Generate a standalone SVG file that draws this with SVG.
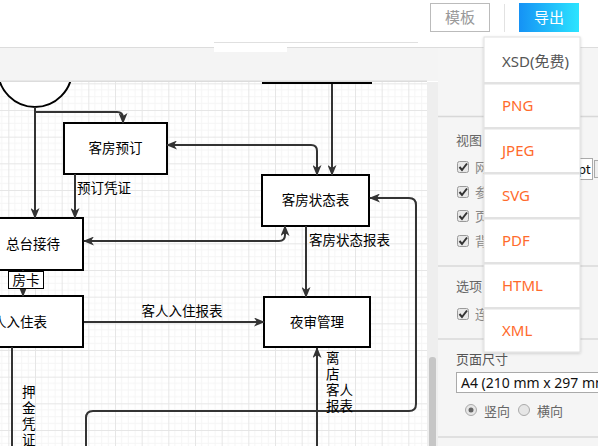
<svg xmlns="http://www.w3.org/2000/svg" width="598" height="446" viewBox="0 0 598 446">
<defs>
<style>
.box{fill:#fff;stroke:#000;stroke-width:2}
.conn{fill:none;stroke:#333;stroke-width:2}
.t{font-family:"Noto Sans CJK SC","Noto Sans",sans-serif;font-size:13.5px;fill:#000}
.tv{font-family:"Noto Sans CJK SC","Noto Sans",sans-serif;font-size:13.5px;fill:#000;line-height:1}
.tc{text-anchor:middle}
.ui{font-family:"Noto Sans CJK SC","Noto Sans",sans-serif;font-size:13px;fill:#666}
.dd{font-family:"Noto Sans","Noto Sans CJK SC",sans-serif;font-size:15px;fill:#ff6a2c}
.sep{fill:#e2e2e2}
.cb{fill:#e8e8e8;stroke:#9a9a9a;stroke-width:1}
.ck{fill:none;stroke:#333;stroke-width:2}
.pl{stroke:#d8d8d8;stroke-width:1.5}
</style>
<marker id="arr" viewBox="0 0 11 9" refX="10" refY="4.5" markerWidth="11" markerHeight="9" markerUnits="userSpaceOnUse" orient="auto-start-reverse">
<path d="M0,0 L11,4.5 L0,9 L3,4.5 Z" fill="#333"/>
</marker>
<pattern id="grid" patternUnits="userSpaceOnUse" x="8.33" y="3.33" width="26.667" height="26.667">
<path d="M6.667,0V26.667M13.333,0V26.667M20,0V26.667M0,6.667H26.667M0,13.333H26.667M0,20H26.667" stroke="#f5f5f5" stroke-width="1"/>
<path d="M0.5,0V26.667M0,0.5H26.667" stroke="#e6e6e6" stroke-width="1"/>
</pattern>
<linearGradient id="btn" x1="0" y1="0" x2="1" y2="0">
<stop offset="0" stop-color="#1592f5"/>
<stop offset="1" stop-color="#2ce4ff"/>
</linearGradient>
<clipPath id="canvasClip"><rect x="0" y="82" width="427" height="364"/></clipPath>
<filter id="sh" x="-10%" y="-5%" width="120%" height="110%"><feDropShadow dx="0" dy="1" stdDeviation="1.5" flood-color="#000" flood-opacity="0.18"/></filter>
</defs>

<!-- toolbar -->
<rect x="0" y="0" width="598" height="48" fill="#fff"/>
<rect x="0" y="48" width="598" height="33" fill="#f4f4f4"/>
<line x1="0" y1="47.5" x2="598" y2="47.5" stroke="#dcdcdc"/>
<line x1="0" y1="81.5" x2="427" y2="81.5" stroke="#dcdcdc" stroke-width="2"/>
<line x1="214" y1="42.5" x2="418" y2="42.5" stroke="#e0e0e0"/>
<rect x="214" y="43" width="73" height="9" fill="#fff"/>
<g id="btn-template">
<rect x="430.5" y="3.5" width="59" height="28" fill="#fff" stroke="#bbb"/>
<text x="460" y="23" class="ui" style="font-size:15px;fill:#999" text-anchor="middle">模板</text>
</g>
<line x1="504.5" y1="4" x2="504.5" y2="32" stroke="#e2e2e2"/>
<g id="btn-export">
<rect x="519" y="3" width="60" height="29" fill="url(#btn)"/>
<text x="549" y="23" class="ui" style="font-size:15px;fill:#fff" text-anchor="middle">导出</text>
</g>

<!-- canvas -->
<rect x="0" y="82" width="427" height="364" fill="#fff"/>
<rect x="0" y="82" width="427" height="364" fill="url(#grid)"/>

<!-- right panel -->
<rect x="427" y="82" width="11" height="364" fill="#eeeeee"/>
<rect x="438" y="48" width="160" height="398" fill="#f5f5f5"/>
<rect x="429" y="357" width="7" height="95" rx="3" fill="#c6c6c6"/>
<line x1="438" y1="116.5" x2="598" y2="116.5" class="pl"/>
<text x="456" y="145" class="ui">视图</text>
<g>
<rect x="457.5" y="161.5" width="11" height="11" rx="2" class="cb"/><path d="M459.5,167 L462,170 L467,163.5" class="ck"/>
<rect x="457.5" y="186.5" width="11" height="11" rx="2" class="cb"/><path d="M459.5,192 L462,195 L467,188.5" class="ck"/>
<rect x="457.5" y="210.5" width="11" height="11" rx="2" class="cb"/><path d="M459.5,216 L462,219 L467,212.5" class="ck"/>
<rect x="457.5" y="235.5" width="11" height="11" rx="2" class="cb"/><path d="M459.5,241 L462,244 L467,237.5" class="ck"/>
<text x="475" y="172" class="ui" style="fill:#888">网</text>
<text x="475" y="197" class="ui" style="fill:#888">参</text>
<text x="475" y="221" class="ui" style="fill:#888">页</text>
<text x="475" y="246" class="ui" style="fill:#888">背</text>
</g>
<rect x="577.5" y="158.5" width="15" height="21" fill="#fff" stroke="#aaa"/>
<text x="578" y="174" class="ui" style="fill:#111">pt</text>
<rect x="594.5" y="160.5" width="6" height="17" fill="#eee" stroke="#aaa"/>
<line x1="438" y1="266" x2="598" y2="266" class="pl"/>
<text x="456" y="291" class="ui">选项</text>
<rect x="457.5" y="308.5" width="11" height="11" rx="2" class="cb"/><path d="M459.5,314 L462,317 L467,310.5" class="ck"/>
<text x="475" y="319" class="ui" style="fill:#888">连</text>
<line x1="438" y1="339" x2="598" y2="339" class="pl"/>
<text x="456" y="364" class="ui" style="fill:#555">页面尺寸</text>
<rect x="456.5" y="372.5" width="150" height="20" fill="#fff" stroke="#aaa"/>
<text x="461" y="388" class="ui" style="font-size:14px;fill:#111;font-family:'Noto Sans',sans-serif">A4 (210 mm x 297 mm</text>
<circle cx="471" cy="410" r="5.5" fill="#e6e6e6" stroke="#aaa"/>
<circle cx="471" cy="410" r="2.5" fill="#666"/>
<text x="484" y="416" class="ui">竖向</text>
<circle cx="524" cy="410" r="5.5" fill="#e6e6e6" stroke="#aaa"/>
<text x="537" y="416" class="ui">横向</text>
<line x1="438" y1="437" x2="598" y2="437" class="pl"/>

<!-- diagram nodes -->
<g clip-path="url(#canvasClip)">
<g id="start"><circle cx="35" cy="70" r="37" class="box"/></g>
<g id="top-box"><rect x="263" y="40" width="108" height="43" class="box"/></g>
<g id="room-booking"><rect x="64" y="123" width="103" height="51" class="box"/><text x="115.5" y="153" class="t tc">客房预订</text></g>
<g id="room-status"><rect x="262" y="175" width="107" height="51" class="box"/><text x="315.5" y="205" class="t tc">客房状态表</text></g>
<g id="front-desk"><rect x="-20" y="218" width="103" height="52" class="box"/><text x="33" y="249" class="t tc">总台接待</text></g>
<g id="checkin"><rect x="-20" y="296" width="103" height="51" class="box"/><text x="47" y="327" class="t" text-anchor="end">人入住表</text></g>
<g id="night-audit"><rect x="264" y="297" width="106" height="50" class="box"/><text x="317" y="327" class="t tc">夜审管理</text></g>

<g id="connectors">
<path d="M35,107 V218" class="conn" marker-end="url(#arr)"/>
<path d="M35,112 H117 Q123,112 123,118 V123" class="conn" marker-end="url(#arr)"/>
<path d="M167,145 H311 Q317,145 317,151 V175" class="conn" marker-start="url(#arr)" marker-end="url(#arr)"/>
<path d="M332,84 V175" class="conn" marker-end="url(#arr)"/>
<path d="M75,174 V218" class="conn" marker-end="url(#arr)"/>
<path d="M84,241 H279 Q285,241 285,235 V226" class="conn" marker-start="url(#arr)" marker-end="url(#arr)"/>
<path d="M306,226 V297" class="conn" marker-end="url(#arr)"/>
<path d="M86,450 V418 Q86,411 93,411 H409 Q416,411 416,404 V205 Q416,198 409,198 H370" class="conn" marker-end="url(#arr)"/>
<path d="M317,450 V348" class="conn" marker-end="url(#arr)"/>
<path d="M23,270 V296" class="conn" marker-end="url(#arr)"/>
<path d="M84,322 H264" class="conn" marker-end="url(#arr)"/>
<path d="M12,347 V450" class="conn"/>
</g>

<g id="labels">
<text x="77" y="193" class="t">预订凭证</text>
<rect x="8.5" y="271.5" width="35" height="17" fill="#fff" stroke="#000" stroke-width="1"/>
<text x="26" y="285" class="t tc">房卡</text>
<text x="309" y="245" class="t">客房状态报表</text>
<text x="182" y="316" class="t tc">客人入住报表</text>
<text x="326" y="363" class="t">离</text>
<text x="326" y="379" class="t">店</text>
<text x="326" y="395" class="t">客人</text>
<text x="326" y="411" class="t">报表</text>
<text x="22" y="397" class="t">押</text>
<text x="22" y="413" class="t">金</text>
<text x="22" y="429" class="t">凭</text>
<text x="22" y="445" class="t">证</text>
</g>
</g>

<!-- export dropdown -->
<g id="export-menu">
<rect x="484" y="37" width="96" height="315" fill="#fff" stroke="#e0e0e0" filter="url(#sh)"/>
<rect x="484" y="82" width="96" height="2.5" class="sep"/>
<rect x="484" y="127" width="96" height="2.5" class="sep"/>
<rect x="484" y="172" width="96" height="2.5" class="sep"/>
<rect x="484" y="217" width="96" height="2.5" class="sep"/>
<rect x="484" y="262" width="96" height="2.5" class="sep"/>
<rect x="484" y="307" width="96" height="2.5" class="sep"/>
<text x="502" y="67" class="dd" style="fill:#555">XSD(免费)</text>
<text x="502" y="111" class="dd">PNG</text>
<text x="502" y="156" class="dd">JPEG</text>
<text x="502" y="201" class="dd">SVG</text>
<text x="502" y="246" class="dd">PDF</text>
<text x="502" y="291" class="dd">HTML</text>
<text x="502" y="336" class="dd">XML</text>
</g>
</svg>
